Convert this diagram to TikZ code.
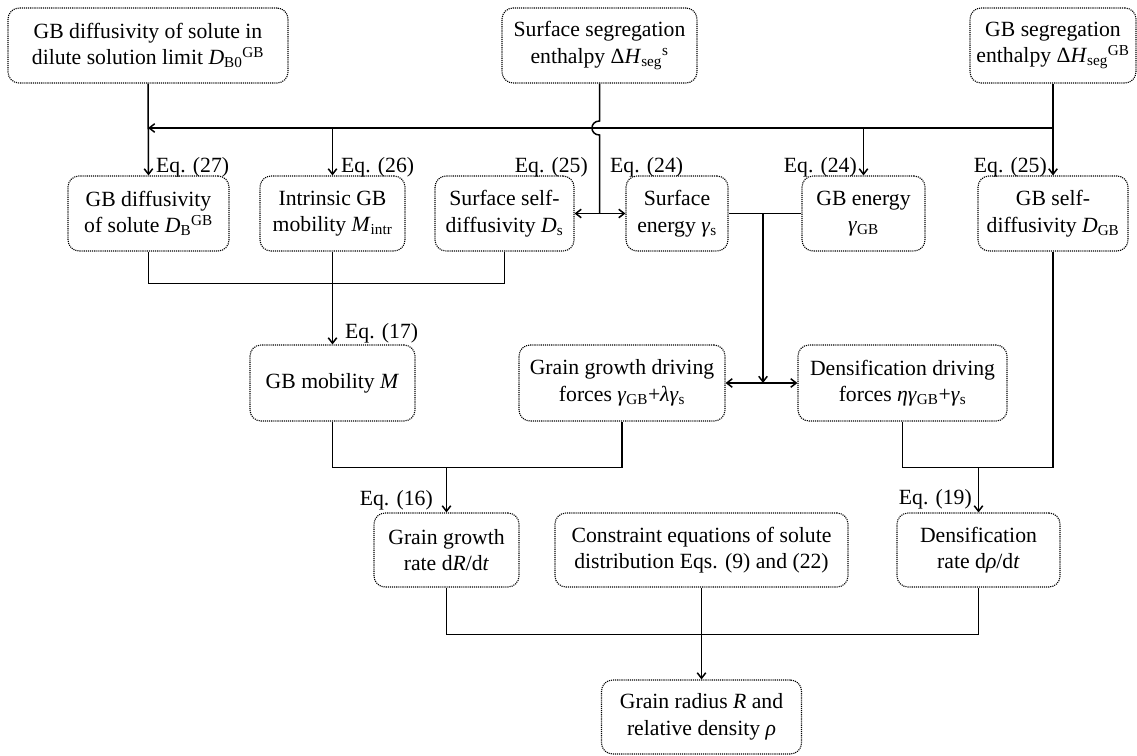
\documentclass[tikz,border=0pt]{standalone}
\usepackage{fontspec}
\setmainfont{Liberation Serif}
\usepackage{tikz}
\usetikzlibrary{arrows.meta}
\usetikzlibrary{calc}
\usetikzlibrary{positioning}

\newcommand{\boxfont}{\fontsize{21.7}{26.5}\selectfont}
\newcommand{\subs}[1]{\textsubscript{#1}}
\newcommand{\sups}[1]{\textsuperscript{#1}}

\begin{document}
\begin{tikzpicture}[x=1pt,y=-1pt,
  blk/.style={draw=black,densely dotted,line width=1.1pt,rounded corners=11pt,align=center,inner sep=0pt,font=\boxfont},
  eq/.style={font=\boxfont,inner sep=0pt},
  link/.style={line width=1.5pt},
  arr/.style={link,-{Straight Barb[length=5.5pt,width=8.5pt]}},
  arrs/.style={link,{Straight Barb[length=5.5pt,width=8.5pt]}-{Straight Barb[length=5.5pt,width=8.5pt]}}]
\useasboundingbox (0,0) rectangle (1137,755);

\node[blk,minimum width=280pt,minimum height=75pt] (b0) at (148,45.5) {GB diffusivity of solute in\\dilute solution limit \textit{D}\subs{B0}\sups{GB}};
\node[blk,minimum width=195pt,minimum height=75pt] (sseg) at (599.5,45.5) {Surface segregation\\enthalpy Δ\textit{H}\subs{seg}\sups{s}};
\node[blk,minimum width=166pt,minimum height=75pt] (gbseg) at (1053,45.5) {GB segregation\\enthalpy Δ\textit{H}\subs{seg}\sups{GB}};

\node[blk,minimum width=161pt,minimum height=75pt] (db) at (148.5,213.5) {GB diffusivity\\of solute \textit{D}\subs{B}\sups{GB}};
\node[blk,minimum width=145pt,minimum height=75pt] (mintr) at (332.5,213.5) {Intrinsic GB\\mobility \textit{M}\subs{intr}};
\node[blk,minimum width=139pt,minimum height=75pt] (ds) at (504.5,213.5) {Surface self-\\diffusivity \textit{D}\subs{s}};
\node[blk,minimum width=102pt,minimum height=75pt] (gs) at (677,213.5) {Surface\\energy \textit{γ}\subs{s}};
\node[blk,minimum width=123pt,minimum height=75pt] (gbe) at (863.5,213.5) {GB energy\\\textit{γ}\subs{GB}};
\node[blk,minimum width=150pt,minimum height=75pt] (gbself) at (1053,213.5) {GB self-\\diffusivity \textit{D}\subs{GB}};

\node[blk,minimum width=165pt,minimum height=76pt] (gbm) at (332.5,383) {GB mobility \textit{M}};
\node[blk,minimum width=206pt,minimum height=76pt] (ggdf) at (622,383) {Grain growth driving\\forces \textit{γ}\subs{GB}+\textit{λγ}\subs{s}};
\node[blk,minimum width=209pt,minimum height=76pt] (ddf) at (902.5,383) {Densification driving\\forces \textit{ηγ}\subs{GB}+\textit{γ}\subs{s}};

\node[blk,minimum width=145pt,minimum height=74pt] (ggr) at (446.5,550) {Grain growth\\rate d\textit{R}/d\textit{t}};
\node[blk,minimum width=293pt,minimum height=74pt] (con) at (701.5,550) {Constraint equations of solute\\distribution Eqs. (9) and (22)};
\node[blk,minimum width=163pt,minimum height=74pt] (dr) at (978.5,550) {Densification\\rate d\textit{ρ}/d\textit{t}};
\node[blk,minimum width=200pt,minimum height=74pt] (final) at (701.5,717) {Grain radius \textit{R} and\\relative density \textit{ρ}};

\node[eq,anchor=base west] (e27) at (156,172) {Eq. (27)};
\node[eq,anchor=base west] (e26) at (341,172) {Eq. (26)};
\node[eq,anchor=base east] (e25a) at (588,172) {Eq. (25)};
\node[eq,anchor=base west] (e24a) at (610,172) {Eq. (24)};
\node[eq,anchor=base east] (e24b) at (857,172) {Eq. (24)};
\node[eq,anchor=base east] (e25b) at (1047,172) {Eq. (25)};
\node[eq,anchor=base west] (e17) at (345,338) {Eq. (17)};
\node[eq,anchor=base east] (e16) at (433,505) {Eq. (16)};
\node[eq,anchor=base east] (e19) at (972,504) {Eq. (19)};

\coordinate (bus) at (0,128);
\coordinate (fork) at (763,213.5);
\coordinate (midbus) at (0,467);

\draw[arr] (b0.south) -- (db.north);
\draw[arr] (gbseg.south) -- (gbself.north);
\draw[arr] (gbseg.south |- bus) -- (b0.south |- bus);
\draw[arr] (mintr.north |- bus) -- (mintr.north);
\draw[arr] (gbe.north |- bus) -- (gbe.north);
% hop over the bus
\coordinate (hopA) at ([yshift=7pt]sseg.south |- bus);
\coordinate (hopB) at ([yshift=-7pt]sseg.south |- bus);
\draw[link] (sseg.south) -- (hopA) .. controls +(-10,0) and +(-10,0) .. (hopB) -- (sseg.south |- ds.east);
\draw[arrs] (ds.east) -- (gs.west);
\draw[link] (gs.east) -- (gbe.west);
\draw[arr] (fork) -- (fork |- ggdf.east);
\draw[arrs] (ggdf.east) -- (ddf.west);

\draw[link] (db.south) -- ++(0,32) -| (ds.south);
\draw[arr] (mintr.south) -- (gbm.north);
\draw[link] (gbm.south) -- ++(0,46) -| (ggdf.south);
\draw[arr] (ggr.north |- midbus) -- (ggr.north);
\draw[link] (ddf.south) -- ++(0,46) -| (gbself.south);
\draw[arr] (dr.north |- midbus) -- (dr.north);
\draw[link] (ggr.south) -- ++(0,47) -| (dr.south);
\draw[arr] (con.south) -- (final.north);
\end{tikzpicture}
\end{document}
